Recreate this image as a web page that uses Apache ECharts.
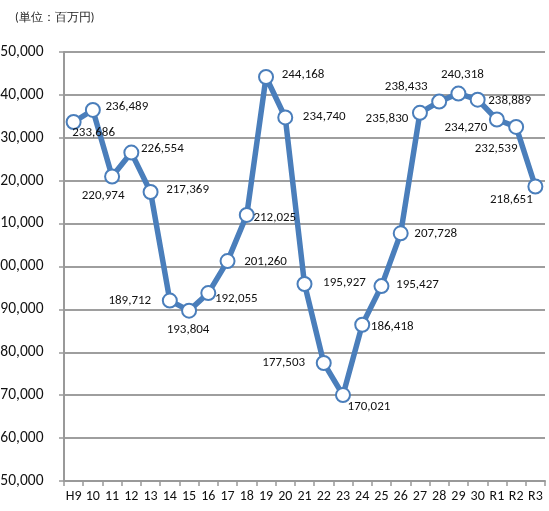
<!DOCTYPE html>
<html>
<head>
<meta charset="utf-8">
<script src="https://cdn.jsdelivr.net/npm/echarts@6/dist/echarts.min.js"></script>
<style>
html,body{margin:0;padding:0;background:#fff;}
#chart{width:549px;height:511px;}
</style>
</head>
<body>
<div id="chart"></div>
<script>
const categories = ['H9','10','11','12','13','14','15','16','17','18','19','20','21','22','23','24','25','26','27','28','29','30','R1','R2','R3'];
const values = [233686, 236489, 220974, 226554, 217369, 192055, 189712, 193804, 201260, 212025, 244168, 234740, 195927, 177503, 170021, 186418, 195427, 207728, 235830, 238433, 240318, 238889, 234270, 232539, 218651];
const labelTexts = ['233,686','236,489','220,974','226,554','217,369','189,712','193,804','192,055','201,260','212,025','244,168','234,740','195,927','177,503','170,021','186,418','195,427','207,728','235,830','238,433','240,318','238,889','234,270','232,539','218,651'];
const unitText = '(単位：百万円)';

// label placement offsets (layout only)
const labelOffsets = [[20,11],[34,-3],[-9,19],[31,-4],[37,-2],[-40,0],[-1,19],[28,6],[38,1],[28,3],[37,-2],[39,-1],[40,-1],[-40,0],[26,12],[30,2],[36,-1],[35,0],[-33,6],[-33,-15],[4,-19],[32,1],[-31,8],[-20,22],[-24,13]];

const FONT = 'Carlito, "Liberation Sans", sans-serif';
const chart = echarts.init(document.getElementById('chart'), null, {renderer:'canvas'});
chart.setOption({
  animation:false,
  backgroundColor:'#fff',
  title:{
    text:unitText, left:10, top:7,
    textStyle:{fontSize:12, fontWeight:'normal', color:'#222', fontFamily:FONT}
  },
  grid:{left:64, right:4, top:52, bottom:30, containLabel:false, outerBoundsMode:'none'},
  xAxis:{
    type:'category', data:categories, boundaryGap:true,
    axisLine:{lineStyle:{color:'#999', width:2}},
    axisTick:{show:true, length:5, lineStyle:{color:'#999', width:1.5}},
    axisLabel:{color:'#111', fontSize:14, margin:8, fontFamily:FONT, interval:0}
  },
  yAxis:{
    type:'value', min:150000, max:250000, interval:10000,
    axisLine:{show:true, lineStyle:{color:'#999', width:2}},
    axisTick:{show:true, length:5, lineStyle:{color:'#999', width:1.5}},
    splitLine:{lineStyle:{color:'#9e9e9e', width:2}},
    axisLabel:{color:'#111', fontSize:15.5, margin:20.5, fontFamily:FONT,
      formatter:v=>v.toLocaleString('en-US')}
  },
  series:[{
    type:'line',
    data:values.map((v,i)=>({
      value:v,
      label:{show:true, position:'inside', offset:labelOffsets[i],
        formatter:()=>labelTexts[i]}
    })),
    lineStyle:{color:'#4a7ebb', width:5.5},
    itemStyle:{color:'#fff', borderColor:'#4a7ebb', borderWidth:2},
    symbol:'circle', symbolSize:14,
    label:{color:'#111', fontSize:13, fontFamily:FONT},
    z:3
  }]
});
</script>
</body>
</html>
